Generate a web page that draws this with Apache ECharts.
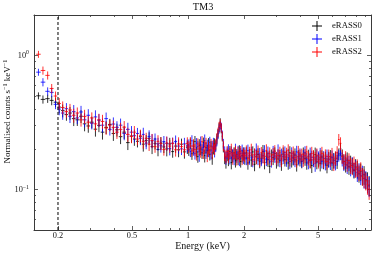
<!DOCTYPE html>
<html><head><meta charset="utf-8">
<script src="https://cdn.jsdelivr.net/npm/echarts@6/dist/echarts.min.js"></script>
<style>html,body{margin:0;padding:0;background:#fff}#c{width:374px;height:256px}</style>
</head><body><div id="c"></div>
<script>
const energy = [0.157,0.166,0.176,0.185,0.194,
0.203,0.212,0.222,0.232,0.243,0.254,0.266,0.278,0.291,0.304,0.318,0.332,0.347,0.363,0.380,0.397,0.415,0.434,0.454,0.475,0.497,
0.515,0.535,0.555,0.575,0.596,0.618,0.641,0.665,0.690,0.715,0.742,0.769,0.798,0.827,0.858,0.890,0.923,0.957,0.992,
1.010,1.030,1.050,1.070,1.090,1.110,1.130,1.150,1.170,1.190,1.210,1.230,1.250,1.270,1.290,1.310,1.330,1.350,1.370,1.390,1.410,1.430,1.450,1.470,1.490,1.510,1.530,1.550,1.575,1.600,1.625,1.650,1.680,1.710,1.740,1.770,1.800,1.830,1.860,1.890,1.920,1.955,1.985,
2.02,2.06,2.10,2.14,2.19,2.23,2.28,2.33,2.38,2.43,2.48,2.53,2.58,2.64,2.69,2.75,2.81,2.87,2.93,2.99,3.05,3.12,3.18,3.25,3.32,3.39,3.46,3.53,3.61,3.68,3.76,3.84,3.92,4.00,4.09,4.17,4.26,4.35,4.44,4.54,4.63,4.73,4.83,4.93,5.04,5.14,5.25,5.36,5.48,5.59,5.71,5.83,5.95,6.08,6.21,6.34,6.47,6.61,6.75,6.89,7.04,7.18,7.34,7.49,7.65,7.81,7.97,8.14,8.31,8.49,8.67,8.85,9.04,9.23,9.42];

const eRASS0 = [0.500,0.470,0.476,0.462,0.448,
.412,.388,.362,.372,.338,.331,.352,.309,.298,.318,.282,.301,.268,.291,.306,.262,.279,.248,.268,.224,.251,
.238,.229,.248,.218,.232,.241,.209,.221,.199,.222,.208,.201,.219,.192,.211,.198,.218,.191,.207,
.198,.221,.185,.209,.228,.191,.176,.214,.201,.188,.224,.179,.206,.195,.218,.183,.211,.172,.203,.219,.214,.238,.262,.291,.318,.285,.248,.208,.172,.161,.181,.168,.192,.159,.178,.188,.164,.182,.171,.193,.162,.179,.186,
.172,.188,.158,.179,.166,.191,.154,.176,.183,.162,.171,.192,.159,.177,.168,.149,.181,.173,.186,.161,.169,.178,.155,.184,.167,.175,.158,.188,.164,.172,.181,.153,.176,.169,.162,.184,.171,.158,.177,.166,.151,.173,.182,.161,.168,.157,.175,.163,.171,.152,.169,.176,.158,.166,.171,.162,.184,.201,.178,.162,.154,.166,.148,.157,.151,.139,.148,.142,.131,.136,.126,.129,.118,.116,.108];

const eRASS1 = [0.750,0.632,0.540,0.530,0.432,
.398,.372,.401,.352,.381,.342,.379,.331,.358,.312,.348,.329,.302,.338,.281,.308,.291,.302,.262,.281,.268,
.252,.262,.241,.258,.222,.249,.231,.238,.219,.212,.228,.221,.202,.222,.228,.211,.201,.219,.212,
.215,.192,.231,.201,.186,.222,.209,.181,.226,.198,.207,.232,.188,.214,.196,.225,.184,.208,.221,.193,.209,.231,.258,.284,.301,.292,.255,.219,.191,.172,.188,.196,.171,.189,.181,.169,.198,.176,.191,.168,.186,.195,.174,
.186,.169,.195,.174,.188,.163,.181,.197,.171,.184,.166,.179,.193,.168,.187,.176,.162,.189,.178,.171,.194,.165,.182,.176,.189,.168,.181,.162,.186,.174,.167,.191,.172,.181,.164,.176,.188,.169,.161,.182,.174,.167,.156,.178,.172,.181,.163,.171,.158,.176,.167,.159,.173,.164,.158,.171,.179,.186,.169,.158,.164,.152,.158,.146,.153,.141,.145,.134,.138,.127,.131,.121,.119,.112,.106];

const eRASS2 = [1.02,0.772,0.710,0.567,0.498,
.438,.409,.381,.392,.358,.372,.331,.351,.318,.342,.309,.331,.322,.288,.302,.291,.268,.281,.292,.258,.249,
.268,.238,.252,.229,.241,.218,.232,.209,.229,.221,.199,.222,.211,.221,.198,.219,.209,.198,.221,
.208,.226,.195,.214,.199,.181,.219,.203,.192,.228,.186,.209,.221,.178,.205,.196,.219,.189,.212,.201,.218,.242,.268,.296,.312,.289,.251,.212,.181,.176,.192,.178,.186,.198,.172,.185,.191,.168,.188,.179,.192,.171,.183,
.179,.194,.171,.186,.198,.168,.183,.175,.192,.166,.189,.178,.171,.196,.174,.186,.168,.182,.193,.172,.179,.188,.166,.191,.175,.183,.196,.169,.178,.187,.173,.164,.189,.177,.182,.168,.179,.191,.172,.165,.186,.176,.169,.181,.163,.174,.186,.167,.178,.162,.176,.168,.181,.158,.172,.188,.236,.221,.176,.162,.171,.158,.165,.152,.149,.156,.142,.146,.135,.139,.126,.122,.116,.109,.101];

const relErr = [.06,.07,.07,.08,.08,
.10,.11,.10,.11,.12,.10,.11,.12,.11,.10,.12,.11,.12,.11,.10,.12,.11,.12,.11,.12,.11,
.11,.10,.11,.12,.10,.11,.12,.10,.11,.11,.10,.12,.11,.10,.11,.12,.10,.11,.11,
.10,.09,.10,.11,.10,.09,.10,.11,.10,.10,.09,.11,.10,.10,.11,.10,.09,.11,.10,.10,.09,.09,.08,.08,.07,.08,.08,.09,.10,.11,.10,.11,.10,.11,.11,.10,.11,.10,.11,.11,.10,.11,.11,
.11,.10,.11,.12,.11,.10,.11,.12,.11,.11,.10,.12,.11,.11,.12,.11,.10,.12,.11,.11,.12,.11,.11,.12,.11,.12,.11,.12,.11,.12,.12,.11,.12,.12,.11,.12,.12,.11,.12,.13,.12,.12,.13,.12,.12,.13,.12,.13,.12,.13,.13,.12,.13,.13,.12,.12,.10,.11,.12,.13,.13,.14,.13,.14,.14,.13,.14,.15,.14,.15,.15,.16,.15,.16,.17];

const seriesNames = ['eRASS0', 'eRASS1', 'eRASS2'];
const seriesValues = [eRASS0, eRASS1, eRASS2];
const seriesColors = ['#000000', '#0000ff', '#ff0000'];
const xMajorTicks = [0.2, 0.5, 1, 2, 5];
const xTickLabels = ['0.2', '0.5', '1', '2', '5'];
const xMinorTicks = [0.3, 0.4, 0.6, 0.7, 0.8, 0.9, 3, 4, 6, 7, 8, 9];
const yMajorTicks = [0.1, 1];
const yTickExponents = ['\u22121', '0'];
const yMinorTicks = [0.06, 0.07, 0.08, 0.09, 0.2, 0.3, 0.4, 0.5, 0.6, 0.7, 0.8, 0.9, 2];
const xRange = [0.1486, 9.64];
const yRange = [0.05, 2.0];
const cutEnergy = 0.2;

const F = '"Liberation Serif", "DejaVu Serif", serif';
const AX = '#3a3a3a';
const TXT = '#111';

function binEdges(i) {
  const e = energy[i];
  const prev = i > 0 ? energy[i - 1] : e * e / energy[i + 1];
  const next = i < energy.length - 1 ? energy[i + 1] : e * e / energy[i - 1];
  return [Math.sqrt(prev * e), Math.sqrt(e * next)];
}

// rows: [E, binLo, binHi, value, value - err, value + err]
function buildRows(vals) {
  const rows = [];
  for (let i = 0; i < energy.length; i++) {
    if (vals[i] == null) continue;
    const ed = binEdges(i);
    rows.push([energy[i], ed[0], ed[1], vals[i], vals[i] * (1 - relErr[i]), vals[i] * (1 + relErr[i])]);
  }
  return rows;
}

function makeRender(color) {
  return function (params, api) {
    const e = api.value(0), lo = api.value(1), hi = api.value(2), v = api.value(3), vl = api.value(4), vh = api.value(5);
    const a = api.coord([lo, v]), b = api.coord([hi, v]);
    const t = api.coord([e, vh]), d = api.coord([e, vl]);
    const st = { stroke: color, lineWidth: 1, opacity: 0.8 };
    return {
      type: 'group',
      children: [
        { type: 'line', shape: { x1: a[0], y1: a[1], x2: b[0], y2: b[1] }, style: st },
        { type: 'line', shape: { x1: t[0], y1: t[1], x2: d[0], y2: d[1] }, style: st }
      ]
    };
  };
}

function idxOf(arr, v) { return arr.findIndex(t => Math.abs(t - v) < 1e-9 * Math.max(1, t)); }

const plusIcon = 'path://M4.5,0H5.5V10H4.5Z M0,4.5H10V5.5H0Z';

function xAxisDef(pos, major, labels) {
  return {
    type: 'log', logBase: 10, position: pos, min: xRange[0], max: xRange[1],
    axisLine: { show: major, onZero: false, lineStyle: { color: AX, width: 1 } },
    axisTick: { show: true, inside: true, length: major ? 4 : 2, customValues: major ? xMajorTicks : xMinorTicks, lineStyle: { color: AX, width: 0.8 } },
    axisLabel: labels ? { show: true, customValues: xMajorTicks, margin: 2, fontSize: 8.3, fontFamily: F, color: TXT,
      formatter: function (v) { const i = idxOf(xMajorTicks, v); return i >= 0 ? xTickLabels[i] : ''; } } : { show: false },
    splitLine: { show: false }, minorTick: { show: false }
  };
}
function yAxisDef(pos, major, labels) {
  return {
    type: 'log', logBase: 10, position: pos, min: yRange[0], max: yRange[1],
    axisLine: { show: major, onZero: false, lineStyle: { color: AX, width: 1 } },
    axisTick: { show: true, inside: true, length: major ? 4 : 2, customValues: major ? yMajorTicks : yMinorTicks, lineStyle: { color: AX, width: 0.8 } },
    axisLabel: labels ? { show: true, customValues: yMajorTicks, margin: 5, color: TXT,
      formatter: function (v) { const i = idxOf(yMajorTicks, v); return i >= 0 ? '{b|10}{s|' + yTickExponents[i] + '}' : ''; },
      rich: { b: { fontSize: 8.3, fontFamily: F, color: TXT }, s: { fontSize: 5.8, fontFamily: F, color: TXT, verticalAlign: 'top', padding: [0, 0, 5, 0] } } } : { show: false },
    splitLine: { show: false }, minorTick: { show: false }
  };
}

const xAxes = [xAxisDef('bottom', true, true), xAxisDef('bottom', false, false), xAxisDef('top', true, false), xAxisDef('top', false, false)];
xAxes[0].name = 'Energy (keV)';
xAxes[0].nameLocation = 'middle';
xAxes[0].nameGap = 11;
xAxes[0].nameMoveOverlap = false;
xAxes[0].nameTextStyle = { fontSize: 10, fontFamily: F, color: TXT, verticalAlign: 'top' };
const yAxes = [yAxisDef('left', true, true), yAxisDef('left', false, false), yAxisDef('right', true, false), yAxisDef('right', false, false)];
yAxes[0].name = 'Normalised counts s{s|\u22121} keV{s|\u22121}';
yAxes[0].nameLocation = 'middle';
yAxes[0].nameGap = 21;
yAxes[0].nameMoveOverlap = false;
yAxes[0].nameTextStyle = { fontSize: 9, fontFamily: F, color: TXT, padding: [0, 0, 0, 22], rich: { s: { fontSize: 6.2, fontFamily: F, color: TXT, verticalAlign: 'top', padding: [0, 0, 5, 0] } } };

const series = seriesNames.map((n, k) => ({
  name: n, type: 'custom', xAxisIndex: 0, yAxisIndex: 0, clip: true,
  itemStyle: { color: seriesColors[k] },
  renderItem: makeRender(seriesColors[k]),
  encode: { x: [0, 1, 2], y: [3, 4, 5] },
  data: buildRows(seriesValues[k]), z: 2 + k
}));
series.push({
  name: 'cut', type: 'line', xAxisIndex: 0, yAxisIndex: 0, symbol: 'none', silent: true, z: 10,
  data: [[cutEnergy, yRange[0]], [cutEnergy, yRange[1]]],
  lineStyle: { color: '#000', width: 1, type: [3, 2] }
});

const chart = echarts.init(document.getElementById('c'), null, { renderer: 'canvas' });
chart.setOption({
  animation: false,
  backgroundColor: '#fff',
  title: { text: 'TM3', left: 203, top: 2, padding: 0, textAlign: 'center', textStyle: { fontSize: 10.3, fontWeight: 'normal', fontFamily: F, color: TXT } },
  legend: {
    orient: 'vertical', left: 312, top: 21, padding: 0, itemGap: 3, itemWidth: 10, itemHeight: 10,
    data: seriesNames.map(n => ({ name: n, icon: plusIcon })),
    textStyle: { fontSize: 8.7, fontFamily: F, color: TXT, padding: [0, 0, 0, 5] }, selectedMode: false
  },
  grid: { left: 34, right: 3, top: 15, bottom: 26, containLabel: false, outerBoundsMode: 'none' },
  xAxis: xAxes,
  yAxis: yAxes,
  series: series
});
</script></body></html>
